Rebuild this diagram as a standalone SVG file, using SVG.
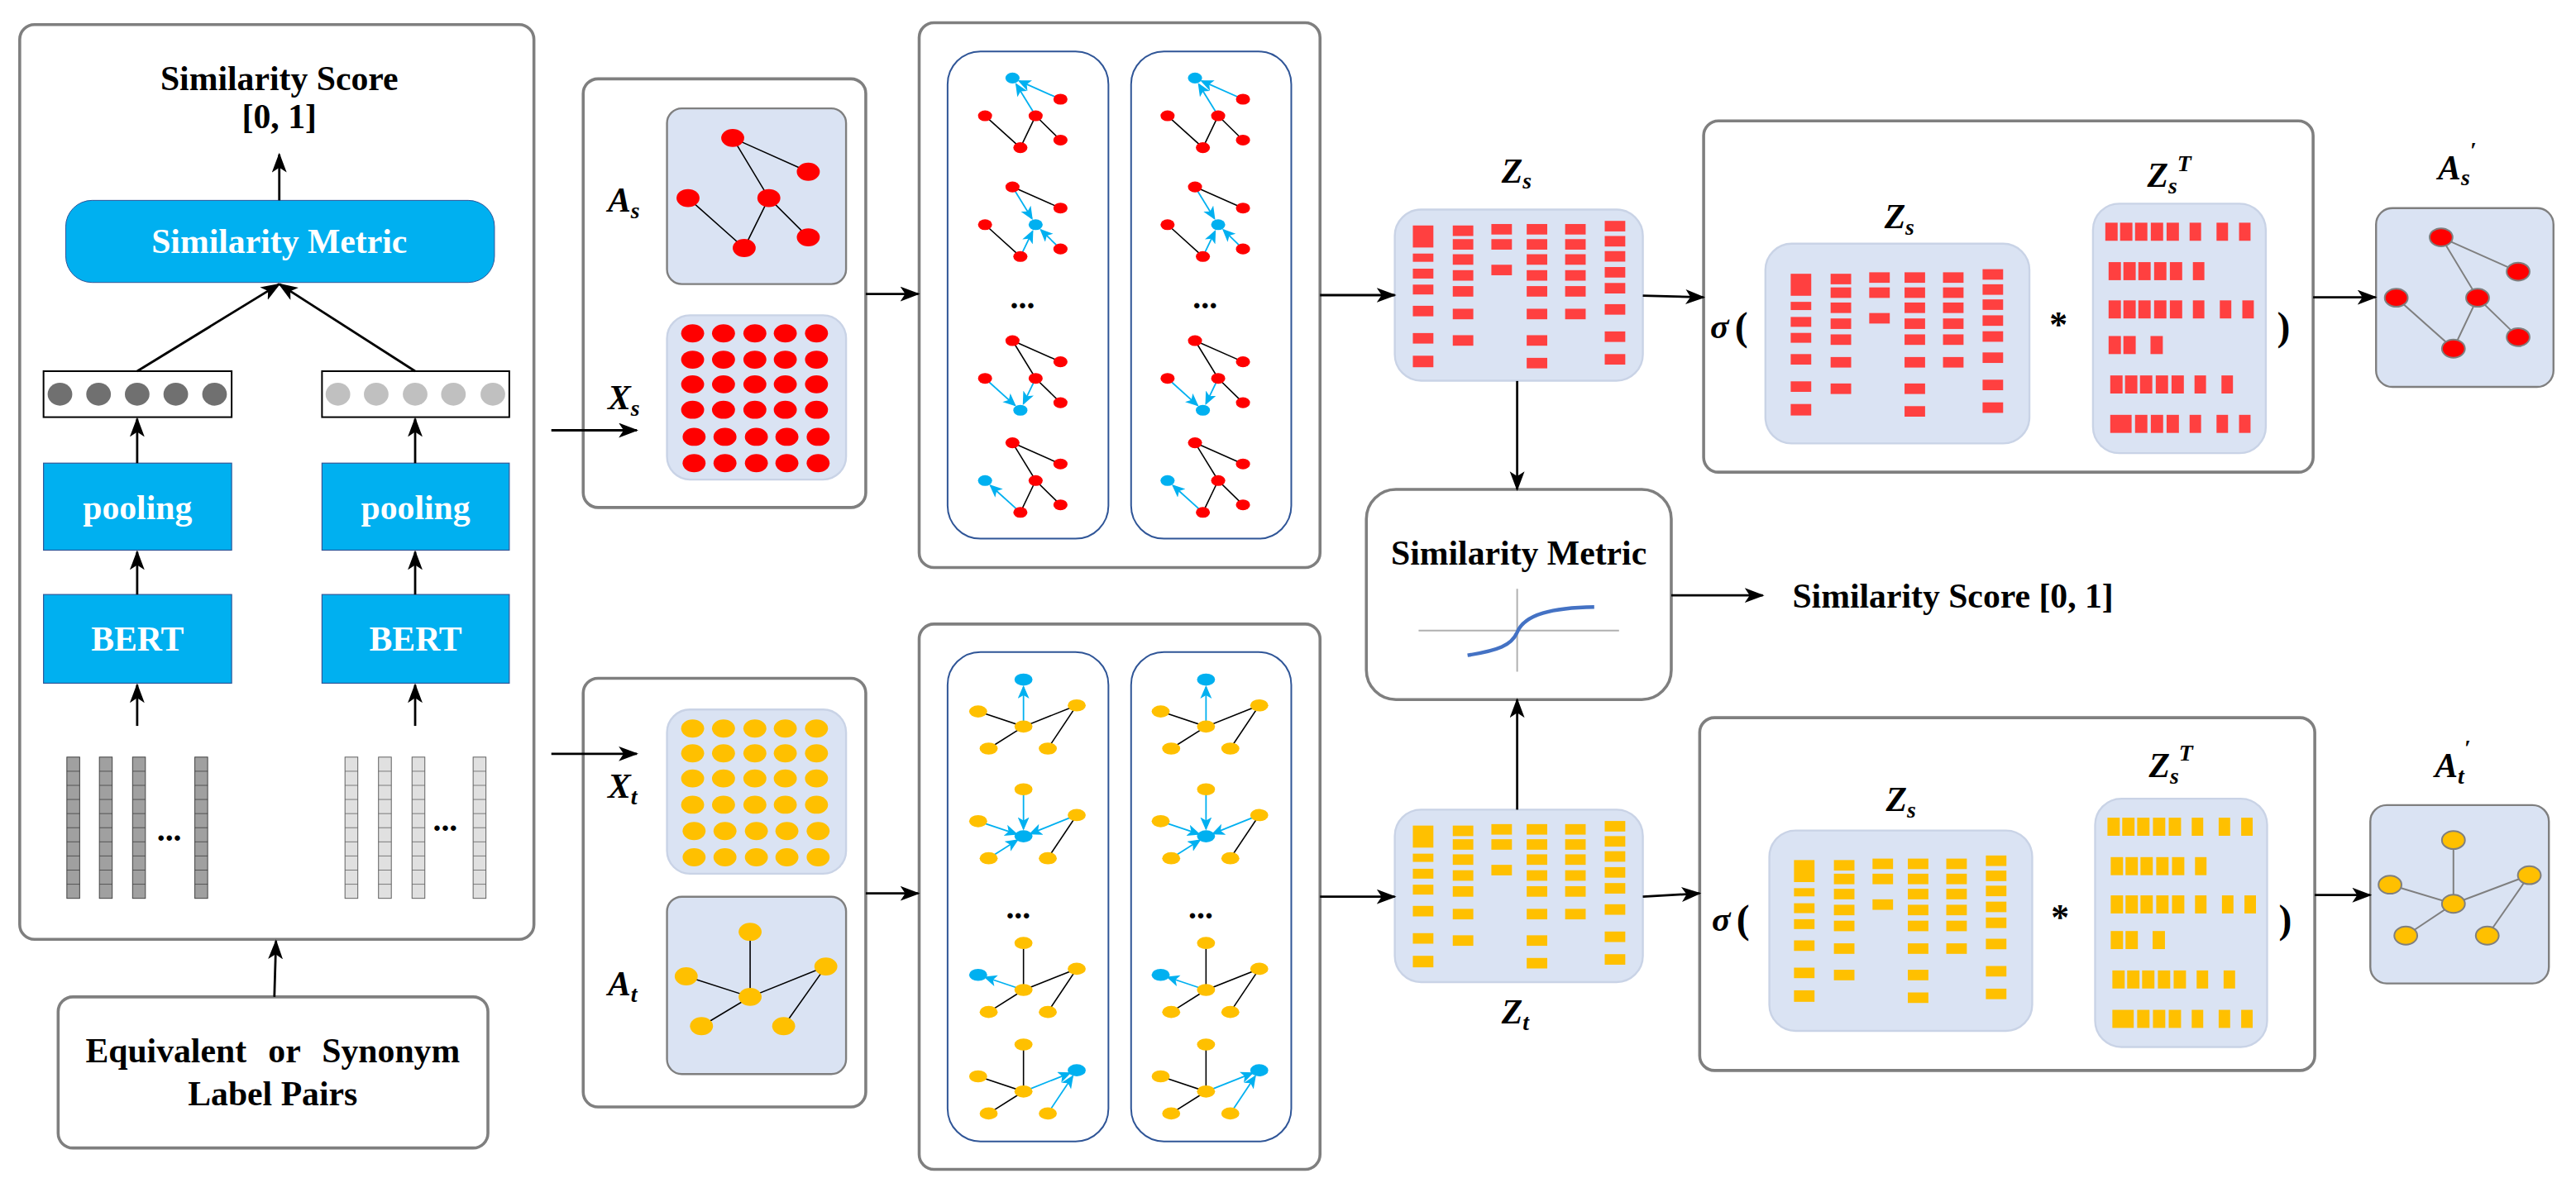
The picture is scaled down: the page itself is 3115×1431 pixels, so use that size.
<svg xmlns="http://www.w3.org/2000/svg" xmlns:xlink="http://www.w3.org/1999/xlink" width="3115" height="1431" viewBox="0 0 3115 1431">
<style>
.box{fill:#fff;stroke:#7f7f7f;stroke-width:1.8}
.lav{fill:#dae3f3;stroke:#7f7f7f;stroke-width:1.2}
.lav2{fill:#dae3f3;stroke:#c9d3e6;stroke-width:1.2}
.col{fill:#fff;stroke:#2f5597;stroke-width:1}
.blue{fill:#00b0f0;stroke:#2f5597;stroke-width:0.6}
.t{font-family:"Liberation Serif","Times New Roman",serif;font-weight:bold;fill:#000}
.w{fill:#fff}
.m{font-family:"Liberation Serif","Times New Roman",serif;font-weight:bold;font-style:italic;font-size:21px}
.con line,.con path{stroke:#000;stroke-width:1.4;fill:none;marker-end:url(#ah)}
.bk{stroke:#000;stroke-width:0.8;fill:none}
.bl{stroke:#00b0f0;stroke-width:0.9;fill:none;marker-end:url(#bh)}
.gr{stroke:#7f7f7f;stroke-width:1;fill:none}
.r{fill:#ff0000}.o{fill:#ffc000}.c{fill:#00b0f0}
</style>
<defs>
<marker id="ah" markerUnits="userSpaceOnUse" markerWidth="13" markerHeight="10" refX="11" refY="4.5" orient="auto"><path d="M0,0 L12,4.5 L0,9 L3,4.5 Z" fill="#000"/></marker>
<marker id="bh" markerUnits="userSpaceOnUse" markerWidth="9" markerHeight="8" refX="7" refY="3.5" orient="auto"><path d="M0,0 L8,3.5 L0,7 L2,3.5 Z" fill="#00b0f0"/></marker>
<g id="tokD"><rect x="0" y="0" width="7.8" height="86" fill="#a0a0a0" stroke="#404040" stroke-width="0.5"/><path d="M0,8.6H7.8M0,17.2H7.8M0,25.8H7.8M0,34.4H7.8M0,43H7.8M0,51.6H7.8M0,60.2H7.8M0,68.8H7.8M0,77.4H7.8" stroke="#404040" stroke-width="0.4"/></g>
<g id="tokL"><rect x="0" y="0" width="7.8" height="86" fill="#e0e0e0" stroke="#606060" stroke-width="0.5"/><path d="M0,8.6H7.8M0,17.2H7.8M0,25.8H7.8M0,34.4H7.8M0,43H7.8M0,51.6H7.8M0,60.2H7.8M0,68.8H7.8M0,77.4H7.8" stroke="#606060" stroke-width="0.4"/></g>
<g id="bars">
<rect x="11" y="9.7" width="12.5" height="13.4"/><rect x="11" y="26.8" width="12.5" height="5"/><rect x="11" y="36" width="12.5" height="6"/><rect x="11" y="45.7" width="12.5" height="6"/><rect x="11" y="58.6" width="12.5" height="6.4"/><rect x="11" y="75.2" width="12.5" height="6.4"/><rect x="11" y="89" width="12.5" height="7"/>
<rect x="35.3" y="9.7" width="12.5" height="6.4"/><rect x="35.3" y="18" width="12.5" height="6.4"/><rect x="35.3" y="27.2" width="12.5" height="6.4"/><rect x="35.3" y="36.9" width="12.5" height="6.4"/><rect x="35.3" y="46.6" width="12.5" height="6.4"/><rect x="35.3" y="60.4" width="12.5" height="6.4"/><rect x="35.3" y="76.5" width="12.5" height="6.4"/>
<rect x="58.8" y="8.8" width="12.5" height="6.4"/><rect x="58.8" y="18" width="12.5" height="6.4"/><rect x="58.8" y="33.6" width="12.5" height="6.4"/>
<rect x="80.3" y="8.8" width="12.5" height="6.4"/><rect x="80.3" y="18" width="12.5" height="6.4"/><rect x="80.3" y="27.2" width="12.5" height="6.4"/><rect x="80.3" y="36.9" width="12.5" height="6.4"/><rect x="80.3" y="46.6" width="12.5" height="6.4"/><rect x="80.3" y="60.4" width="12.5" height="6.4"/><rect x="80.3" y="76.5" width="12.5" height="6.4"/><rect x="80.3" y="90.3" width="12.5" height="6.4"/>
<rect x="103.7" y="8.8" width="12.5" height="6.4"/><rect x="103.7" y="18" width="12.5" height="6.4"/><rect x="103.7" y="27.2" width="12.5" height="6.4"/><rect x="103.7" y="36.9" width="12.5" height="6.4"/><rect x="103.7" y="46.6" width="12.5" height="6.4"/><rect x="103.7" y="60.4" width="12.5" height="6.4"/>
<rect x="127.8" y="6.9" width="12.5" height="6.4"/><rect x="127.8" y="16.1" width="12.5" height="6.4"/><rect x="127.8" y="25.3" width="12.5" height="6.4"/><rect x="127.8" y="35" width="12.5" height="6.4"/><rect x="127.8" y="44.7" width="12.5" height="6.4"/><rect x="127.8" y="57.6" width="12.5" height="6.4"/><rect x="127.8" y="74.2" width="12.5" height="6.4"/><rect x="127.8" y="88" width="12.5" height="6.4"/>
</g>
<g id="barsT">
<g transform="translate(0,11.6)"><rect x="7.5" width="7.5" height="11"/><rect x="16.5" width="7.5" height="11"/><rect x="25.6" width="7.5" height="11"/><rect x="35.2" width="7.5" height="11"/><rect x="44.8" width="7.5" height="11"/><rect x="58.8" width="7" height="11"/><rect x="75.2" width="7" height="11"/><rect x="88.9" width="7" height="11"/></g>
<g transform="translate(2,35.6)"><rect x="7.5" width="7.5" height="11"/><rect x="16.5" width="7.5" height="11"/><rect x="25.6" width="7.5" height="11"/><rect x="35.2" width="7.5" height="11"/><rect x="44.8" width="7.5" height="11"/><rect x="58.8" width="7" height="11"/></g>
<g transform="translate(2,58.9)"><rect x="7.5" width="7.5" height="11"/><rect x="16.5" width="7.5" height="11"/><rect x="25.6" width="7.5" height="11"/><rect x="35.2" width="7.5" height="11"/><rect x="44.8" width="7.5" height="11"/><rect x="58.8" width="7" height="11"/><rect x="75.2" width="7" height="11"/><rect x="88.9" width="7" height="11"/></g>
<g transform="translate(2,80.6)"><rect x="7.5" width="7.5" height="11"/><rect x="16.5" width="7.5" height="11"/><rect x="33" width="7.5" height="11"/></g>
<g transform="translate(3,104.6)"><rect x="7.5" width="7.5" height="11"/><rect x="16.5" width="7.5" height="11"/><rect x="25.6" width="7.5" height="11"/><rect x="35.2" width="7.5" height="11"/><rect x="44.8" width="7.5" height="11"/><rect x="58.8" width="7" height="11"/><rect x="75.2" width="7" height="11"/></g>
<g transform="translate(3,128.6)"><rect x="7.5" width="13" height="11"/><rect x="22.6" width="7.5" height="11"/><rect x="32.2" width="7.5" height="11"/><rect x="41.8" width="7.5" height="11"/><rect x="55.8" width="7" height="11"/><rect x="72.2" width="7" height="11"/><rect x="85.9" width="7" height="11"/></g>
</g>
<g id="sg1"><path class="bk" d="M-16.7,23L4.8,42.4L14.1,23M14.1,23L29.2,37.8"/><line class="bl" x1="14.1" y1="23" x2="2.3" y2="3.8"/><line class="bl" x1="29.2" y1="12.9" x2="4.1" y2="1.8"/>
<ellipse class="c" cx="0" cy="0" rx="4.3" ry="3.3"/><ellipse class="r" cx="29.2" cy="12.9" rx="4.3" ry="3.3"/><ellipse class="r" cx="-16.7" cy="23" rx="4.3" ry="3.3"/><ellipse class="r" cx="14.1" cy="23" rx="4.3" ry="3.3"/><ellipse class="r" cx="4.8" cy="42.4" rx="4.3" ry="3.3"/><ellipse class="r" cx="29.2" cy="37.8" rx="4.3" ry="3.3"/></g>
<g id="sg2"><path class="bk" d="M0,0L29.2,12.9M-16.7,23L4.8,42.4"/><line class="bl" x1="0" y1="0" x2="11.8" y2="19.2"/><line class="bl" x1="4.8" y1="42.4" x2="12.2" y2="27.1"/><line class="bl" x1="29.2" y1="37.8" x2="17.3" y2="26.2"/>
<ellipse class="r" cx="0" cy="0" rx="4.3" ry="3.3"/><ellipse class="r" cx="29.2" cy="12.9" rx="4.3" ry="3.3"/><ellipse class="r" cx="-16.7" cy="23" rx="4.3" ry="3.3"/><ellipse class="c" cx="14.1" cy="23" rx="4.3" ry="3.3"/><ellipse class="r" cx="4.8" cy="42.4" rx="4.3" ry="3.3"/><ellipse class="r" cx="29.2" cy="37.8" rx="4.3" ry="3.3"/></g>
<g id="sg3"><path class="bk" d="M0,0L29.2,12.9M0,0L14.1,23L29.2,37.8"/><line class="bl" x1="-16.7" y1="23" x2="1.5" y2="39.4"/><line class="bl" x1="14.1" y1="23" x2="6.7" y2="38.3"/>
<ellipse class="r" cx="0" cy="0" rx="4.3" ry="3.3"/><ellipse class="r" cx="29.2" cy="12.9" rx="4.3" ry="3.3"/><ellipse class="r" cx="-16.7" cy="23" rx="4.3" ry="3.3"/><ellipse class="r" cx="14.1" cy="23" rx="4.3" ry="3.3"/><ellipse class="c" cx="4.8" cy="42.4" rx="4.3" ry="3.3"/><ellipse class="r" cx="29.2" cy="37.8" rx="4.3" ry="3.3"/></g>
<g id="sg4"><path class="bk" d="M0,0L29.2,12.9M0,0L14.1,23L29.2,37.8M14.1,23L4.8,42.4"/><line class="bl" x1="4.8" y1="42.4" x2="-13.4" y2="26"/>
<ellipse class="r" cx="0" cy="0" rx="4.3" ry="3.3"/><ellipse class="r" cx="29.2" cy="12.9" rx="4.3" ry="3.3"/><ellipse class="c" cx="-16.7" cy="23" rx="4.3" ry="3.3"/><ellipse class="r" cx="14.1" cy="23" rx="4.3" ry="3.3"/><ellipse class="r" cx="4.8" cy="42.4" rx="4.3" ry="3.3"/><ellipse class="r" cx="29.2" cy="37.8" rx="4.3" ry="3.3"/></g>
<g id="og1"><path class="bk" d="M-27.6,19.4L0,28.6L32.4,15.7L14.8,42M0,28.6L-21.2,42"/><line class="bl" x1="0" y1="28.6" x2="0" y2="4.5"/>
<ellipse class="c" cx="0" cy="0" rx="5.5" ry="3.7"/><ellipse class="o" cx="-27.6" cy="19.4" rx="5.5" ry="3.7"/><ellipse class="o" cx="32.4" cy="15.7" rx="5.5" ry="3.7"/><ellipse class="o" cx="0" cy="28.6" rx="5.5" ry="3.7"/><ellipse class="o" cx="-21.2" cy="42" rx="5.5" ry="3.7"/><ellipse class="o" cx="14.8" cy="42" rx="5.5" ry="3.7"/></g>
<g id="og2"><path class="bk" d="M32.4,15.7L14.8,42"/><line class="bl" x1="0" y1="0" x2="0" y2="24"/><line class="bl" x1="-27.6" y1="19.4" x2="-4.3" y2="27.2"/><line class="bl" x1="32.4" y1="15.7" x2="4.2" y2="27"/><line class="bl" x1="-21.2" y1="42" x2="-3.8" y2="31"/>
<ellipse class="o" cx="0" cy="0" rx="5.5" ry="3.7"/><ellipse class="o" cx="-27.6" cy="19.4" rx="5.5" ry="3.7"/><ellipse class="o" cx="32.4" cy="15.7" rx="5.5" ry="3.7"/><ellipse class="c" cx="0" cy="28.6" rx="5.5" ry="3.7"/><ellipse class="o" cx="-21.2" cy="42" rx="5.5" ry="3.7"/><ellipse class="o" cx="14.8" cy="42" rx="5.5" ry="3.7"/></g>
<g id="og3"><path class="bk" d="M0,0L0,28.6L32.4,15.7L14.8,42M0,28.6L-21.2,42"/><line class="bl" x1="0" y1="28.6" x2="-23.3" y2="20.8"/>
<ellipse class="o" cx="0" cy="0" rx="5.5" ry="3.7"/><ellipse class="c" cx="-27.6" cy="19.4" rx="5.5" ry="3.7"/><ellipse class="o" cx="32.4" cy="15.7" rx="5.5" ry="3.7"/><ellipse class="o" cx="0" cy="28.6" rx="5.5" ry="3.7"/><ellipse class="o" cx="-21.2" cy="42" rx="5.5" ry="3.7"/><ellipse class="o" cx="14.8" cy="42" rx="5.5" ry="3.7"/></g>
<g id="og4"><path class="bk" d="M0,0L0,28.6L-27.6,19.4M0,28.6L-21.2,42"/><line class="bl" x1="0" y1="28.6" x2="28.2" y2="17.4"/><line class="bl" x1="14.8" y1="42" x2="29.9" y2="19.4"/>
<ellipse class="o" cx="0" cy="0" rx="5.5" ry="3.7"/><ellipse class="o" cx="-27.6" cy="19.4" rx="5.5" ry="3.7"/><ellipse class="c" cx="32.4" cy="15.7" rx="5.5" ry="3.7"/><ellipse class="o" cx="0" cy="28.6" rx="5.5" ry="3.7"/><ellipse class="o" cx="-21.2" cy="42" rx="5.5" ry="3.7"/><ellipse class="o" cx="14.8" cy="42" rx="5.5" ry="3.7"/></g>
</defs>
<rect width="3115" height="1431" fill="#fff"/>
<g transform="scale(1.9866)">
<g id="siamese">
<rect class="box" x="12" y="15" width="313" height="557" rx="9"/>
<text class="t" x="170" y="55" font-size="21" text-anchor="middle">Similarity Score</text>
<text class="t" x="170" y="78" font-size="21" text-anchor="middle">[0, 1]</text>
<rect x="40" y="122" width="261" height="50" rx="16" fill="#00b0f0" stroke="#2f5597" stroke-width="0.5"/>
<text class="t w" x="170" y="154" font-size="21" text-anchor="middle">Similarity Metric</text>
<rect x="26.5" y="226" width="114.5" height="28" fill="#fff" stroke="#000" stroke-width="1"/>
<g fill="#707070"><ellipse cx="36.5" cy="240" rx="7.5" ry="7"/><ellipse cx="60" cy="240" rx="7.5" ry="7"/><ellipse cx="83.5" cy="240" rx="7.5" ry="7"/><ellipse cx="107" cy="240" rx="7.5" ry="7"/><ellipse cx="130.6" cy="240" rx="7.5" ry="7"/></g>
<rect x="196" y="226" width="114" height="28" fill="#fff" stroke="#000" stroke-width="1"/>
<g fill="#c0c0c0"><ellipse cx="205.7" cy="240" rx="7.5" ry="7"/><ellipse cx="229" cy="240" rx="7.5" ry="7"/><ellipse cx="252.7" cy="240" rx="7.5" ry="7"/><ellipse cx="276" cy="240" rx="7.5" ry="7"/><ellipse cx="300" cy="240" rx="7.5" ry="7"/></g>
<rect class="blue" x="26.5" y="282" width="114.5" height="53"/><text class="t w" x="83.7" y="316" font-size="21" text-anchor="middle">pooling</text>
<rect class="blue" x="196" y="282" width="114" height="53"/><text class="t w" x="253" y="316" font-size="21" text-anchor="middle">pooling</text>
<rect class="blue" x="26.5" y="362" width="114.5" height="54"/><text class="t w" x="83.7" y="396" font-size="21" text-anchor="middle">BERT</text>
<rect class="blue" x="196" y="362" width="114" height="54"/><text class="t w" x="253" y="396" font-size="21" text-anchor="middle">BERT</text>
<use xlink:href="#tokD" x="40.7" y="461"/><use xlink:href="#tokD" x="60.5" y="461"/><use xlink:href="#tokD" x="80.7" y="461"/><use xlink:href="#tokD" x="118.6" y="461"/>
<text class="t" x="103" y="512" font-size="20" text-anchor="middle">...</text>
<use xlink:href="#tokL" x="210" y="461"/><use xlink:href="#tokL" x="230.4" y="461"/><use xlink:href="#tokL" x="250.8" y="461"/><use xlink:href="#tokL" x="288" y="461"/>
<text class="t" x="271" y="506" font-size="20" text-anchor="middle">...</text>
</g>
<g id="pairs">
<rect class="box" x="35.4" y="607" width="261.6" height="92" rx="9"/>
<text class="t" x="166" y="647" font-size="21" text-anchor="middle" word-spacing="8">Equivalent or Synonym</text>
<text class="t" x="166" y="673" font-size="21" text-anchor="middle">Label Pairs</text>
</g>
<g id="source-input">
<rect class="box" x="355" y="48" width="172" height="261" rx="9"/>
<rect class="lav" x="406" y="66" width="109" height="107" rx="9"/>
<path class="bk" d="M446,84L492,104.6M446,84L468,120.6L492,144.5M418.8,120.6L453,151L468,120.6"/>
<g class="r"><ellipse cx="446" cy="84" rx="7" ry="5.5"/><ellipse cx="492" cy="104.6" rx="7" ry="5.5"/><ellipse cx="418.8" cy="120.6" rx="7" ry="5.5"/><ellipse cx="468" cy="120.6" rx="7" ry="5.5"/><ellipse cx="453" cy="151" rx="7" ry="5.5"/><ellipse cx="492" cy="144.5" rx="7" ry="5.5"/></g>
<rect class="lav2" x="406" y="192" width="109" height="100" rx="14"/>
<g class="r">
<ellipse cx="421.6" cy="203" rx="7" ry="5.5"/><ellipse cx="440.4" cy="203" rx="7" ry="5.5"/><ellipse cx="459.5" cy="203" rx="7" ry="5.5"/><ellipse cx="478" cy="203" rx="7" ry="5.5"/><ellipse cx="497" cy="203" rx="7" ry="5.5"/>
<ellipse cx="421.6" cy="219" rx="7" ry="5.5"/><ellipse cx="440.4" cy="219" rx="7" ry="5.5"/><ellipse cx="459.5" cy="219" rx="7" ry="5.5"/><ellipse cx="478" cy="219" rx="7" ry="5.5"/><ellipse cx="497" cy="219" rx="7" ry="5.5"/>
<ellipse cx="421.6" cy="234" rx="7" ry="5.5"/><ellipse cx="440.4" cy="234" rx="7" ry="5.5"/><ellipse cx="459.5" cy="234" rx="7" ry="5.5"/><ellipse cx="478" cy="234" rx="7" ry="5.5"/><ellipse cx="497" cy="234" rx="7" ry="5.5"/>
<ellipse cx="421.6" cy="249.5" rx="7" ry="5.5"/><ellipse cx="440.4" cy="249.5" rx="7" ry="5.5"/><ellipse cx="459.5" cy="249.5" rx="7" ry="5.5"/><ellipse cx="478" cy="249.5" rx="7" ry="5.5"/><ellipse cx="497" cy="249.5" rx="7" ry="5.5"/>
<ellipse cx="422.5" cy="266" rx="7" ry="5.5"/><ellipse cx="441.3" cy="266" rx="7" ry="5.5"/><ellipse cx="460.4" cy="266" rx="7" ry="5.5"/><ellipse cx="479" cy="266" rx="7" ry="5.5"/><ellipse cx="498" cy="266" rx="7" ry="5.5"/>
<ellipse cx="422.5" cy="282" rx="7" ry="5.5"/><ellipse cx="441.3" cy="282" rx="7" ry="5.5"/><ellipse cx="460.4" cy="282" rx="7" ry="5.5"/><ellipse cx="479" cy="282" rx="7" ry="5.5"/><ellipse cx="498" cy="282" rx="7" ry="5.5"/>
</g>
<text class="m" x="370" y="129">A<tspan font-size="14" dy="4">s</tspan></text>
<text class="m" x="370" y="249">X<tspan font-size="14" dy="4">s</tspan></text>
</g>
<g id="target-input">
<rect class="box" x="355" y="413" width="172" height="261" rx="9"/>
<rect class="lav2" x="406" y="432" width="109" height="100" rx="14"/>
<g class="o">
<ellipse cx="421.6" cy="443.6" rx="7" ry="5.5"/><ellipse cx="440.4" cy="443.6" rx="7" ry="5.5"/><ellipse cx="459.5" cy="443.6" rx="7" ry="5.5"/><ellipse cx="478" cy="443.6" rx="7" ry="5.5"/><ellipse cx="497" cy="443.6" rx="7" ry="5.5"/>
<ellipse cx="421.6" cy="458.7" rx="7" ry="5.5"/><ellipse cx="440.4" cy="458.7" rx="7" ry="5.5"/><ellipse cx="459.5" cy="458.7" rx="7" ry="5.5"/><ellipse cx="478" cy="458.7" rx="7" ry="5.5"/><ellipse cx="497" cy="458.7" rx="7" ry="5.5"/>
<ellipse cx="421.6" cy="474" rx="7" ry="5.5"/><ellipse cx="440.4" cy="474" rx="7" ry="5.5"/><ellipse cx="459.5" cy="474" rx="7" ry="5.5"/><ellipse cx="478" cy="474" rx="7" ry="5.5"/><ellipse cx="497" cy="474" rx="7" ry="5.5"/>
<ellipse cx="421.6" cy="490" rx="7" ry="5.5"/><ellipse cx="440.4" cy="490" rx="7" ry="5.5"/><ellipse cx="459.5" cy="490" rx="7" ry="5.5"/><ellipse cx="478" cy="490" rx="7" ry="5.5"/><ellipse cx="497" cy="490" rx="7" ry="5.5"/>
<ellipse cx="422.5" cy="506" rx="7" ry="5.5"/><ellipse cx="441.3" cy="506" rx="7" ry="5.5"/><ellipse cx="460.4" cy="506" rx="7" ry="5.5"/><ellipse cx="479" cy="506" rx="7" ry="5.5"/><ellipse cx="498" cy="506" rx="7" ry="5.5"/>
<ellipse cx="422.5" cy="522" rx="7" ry="5.5"/><ellipse cx="441.3" cy="522" rx="7" ry="5.5"/><ellipse cx="460.4" cy="522" rx="7" ry="5.5"/><ellipse cx="479" cy="522" rx="7" ry="5.5"/><ellipse cx="498" cy="522" rx="7" ry="5.5"/>
</g>
<rect class="lav" x="406" y="546" width="109" height="108" rx="9"/>
<path class="bk" d="M456.6,567.4L456.6,607L502.7,588.5L477,624.8M417.7,594.5L456.6,607L427,624.8"/>
<g class="o"><ellipse cx="456.6" cy="567.4" rx="7" ry="5.5"/><ellipse cx="417.7" cy="594.5" rx="7" ry="5.5"/><ellipse cx="502.7" cy="588.5" rx="7" ry="5.5"/><ellipse cx="456.6" cy="607" rx="7" ry="5.5"/><ellipse cx="427" cy="624.8" rx="7" ry="5.5"/><ellipse cx="477" cy="624.8" rx="7" ry="5.5"/></g>
<text class="m" x="370" y="486">X<tspan font-size="14" dy="4">t</tspan></text>
<text class="m" x="370" y="606">A<tspan font-size="14" dy="4">t</tspan></text>
</g>
<g id="gnn-source">
<rect class="box" x="559.5" y="13.8" width="244" height="331.8" rx="9"/>
<rect class="col" x="576.8" y="31.3" width="97.9" height="296.7" rx="20"/>
<rect class="col" x="688.5" y="31.3" width="97.5" height="296.7" rx="20"/>
<use xlink:href="#sg1" x="616.3" y="47.5"/><use xlink:href="#sg2" x="616.3" y="113.8"/><use xlink:href="#sg3" x="616.3" y="207.4"/><use xlink:href="#sg4" x="616.3" y="269.6"/>
<use xlink:href="#sg1" x="727.4" y="47.5"/><use xlink:href="#sg2" x="727.4" y="113.8"/><use xlink:href="#sg3" x="727.4" y="207.4"/><use xlink:href="#sg4" x="727.4" y="269.6"/>
<text class="t" x="622.4" y="188" font-size="20" text-anchor="middle">...</text>
<text class="t" x="733.5" y="188" font-size="20" text-anchor="middle">...</text>
</g>
<g id="gnn-target">
<rect class="box" x="559.5" y="380" width="244" height="332" rx="9"/>
<rect class="col" x="576.8" y="397" width="97.9" height="298" rx="20"/>
<rect class="col" x="688.5" y="397" width="97.5" height="298" rx="20"/>
<use xlink:href="#og1" x="623" y="413.8"/><use xlink:href="#og2" x="623" y="480.6"/><use xlink:href="#og3" x="623" y="574.2"/><use xlink:href="#og4" x="623" y="636"/>
<use xlink:href="#og1" x="734.1" y="413.8"/><use xlink:href="#og2" x="734.1" y="480.6"/><use xlink:href="#og3" x="734.1" y="574.2"/><use xlink:href="#og4" x="734.1" y="636"/>
<text class="t" x="619.8" y="559" font-size="20" text-anchor="middle">...</text>
<text class="t" x="730.9" y="559" font-size="20" text-anchor="middle">...</text>
</g>
<g id="zs">
<rect class="lav2" x="849" y="127.6" width="151" height="104.2" rx="16"/>
<use xlink:href="#bars" x="849" y="127.6" fill="#ff4040"/>
<text class="m" x="914" y="111">Z<tspan font-size="14" dy="4">s</tspan></text>
</g>
<g id="zt">
<rect class="lav2" x="849" y="493" width="151" height="105" rx="16"/>
<use xlink:href="#bars" x="849" y="493" fill="#ffc000"/>
<text class="m" x="914" y="623">Z<tspan font-size="14" dy="4">t</tspan></text>
</g>
<g id="sim-metric">
<rect class="box" x="831.7" y="298" width="185.6" height="128" rx="18"/>
<text class="t" x="924.5" y="344" font-size="21" text-anchor="middle">Similarity Metric</text>
<path d="M863.5,383.9H985.5M923.5,358.5V409" stroke="#b0b0b0" stroke-width="1"/>
<path d="M893.3,399 C912,396 920,393 923.5,385 C928,374 945,370 970.4,369.6" stroke="#4472c4" stroke-width="2.2" fill="none"/>
</g>
<g id="score-out">
<text class="t" x="1091" y="370" font-size="21">Similarity Score [0, 1]</text>
</g>
<g id="decoder-source">
<rect class="box" x="1037" y="73.6" width="371" height="213.9" rx="9"/>
<rect class="lav2" x="1074.6" y="148.4" width="160.7" height="121.6" rx="16"/>
<use xlink:href="#bars" x="1079" y="157" fill="#ff4040"/>
<rect class="lav2" x="1274" y="124" width="105.2" height="151.9" rx="16"/>
<use xlink:href="#barsT" x="1274" y="124" fill="#ff4040"/>
<text class="m" x="1147" y="139">Z<tspan font-size="14" dy="4">s</tspan></text>
<text class="m" x="1307" y="114">Z<tspan font-size="14" dy="4">s</tspan><tspan font-size="14" dy="-14">T</tspan></text>
<text class="m" x="1041" y="206" font-size="24">σ</text><text class="t" x="1056" y="207" font-size="24">(</text>
<text class="t" x="1253" y="205" font-size="22" text-anchor="middle">*</text>
<text class="t" x="1386" y="207" font-size="24">)</text>
</g>
<g id="decoder-target">
<rect class="box" x="1034.6" y="437" width="374.4" height="214.8" rx="9"/>
<rect class="lav2" x="1077" y="505.7" width="160" height="122" rx="16"/>
<use xlink:href="#bars" x="1081" y="514" fill="#ffc000"/>
<rect class="lav2" x="1275.3" y="486.3" width="104.7" height="151.2" rx="16"/>
<use xlink:href="#barsT" x="1275.3" y="486.3" fill="#ffc000"/>
<text class="m" x="1148" y="494">Z<tspan font-size="14" dy="4">s</tspan></text>
<text class="m" x="1308" y="473">Z<tspan font-size="14" dy="4">s</tspan><tspan font-size="14" dy="-14">T</tspan></text>
<text class="m" x="1042" y="567" font-size="24">σ</text><text class="t" x="1057" y="568" font-size="24">(</text>
<text class="t" x="1254" y="566" font-size="22" text-anchor="middle">*</text>
<text class="t" x="1387" y="568" font-size="24">)</text>
</g>
<g id="as-prime">
<rect class="lav" x="1446.3" y="126.7" width="108" height="108.9" rx="10"/>
<path class="gr" d="M1485.9,144.5L1532.8,165.4M1485.9,144.5L1508.1,181.3L1532.8,205.3M1458.6,181.3L1493.4,212.3L1508.1,181.3"/>
<g fill="#ff0000" stroke="#7f7f7f" stroke-width="1"><ellipse cx="1485.9" cy="144.5" rx="7" ry="5.5"/><ellipse cx="1532.8" cy="165.4" rx="7" ry="5.5"/><ellipse cx="1458.6" cy="181.3" rx="7" ry="5.5"/><ellipse cx="1508.1" cy="181.3" rx="7" ry="5.5"/><ellipse cx="1493.4" cy="212.3" rx="7" ry="5.5"/><ellipse cx="1532.8" cy="205.3" rx="7" ry="5.5"/></g>
<text class="m" x="1484" y="109" font-size="23">A<tspan font-size="14" dy="4">s</tspan><tspan font-size="14" dy="-17">′</tspan></text>
</g>
<g id="at-prime">
<rect class="lav" x="1442.8" y="490.2" width="108.7" height="108.6" rx="10"/>
<path class="gr" d="M1493.4,511.5L1493.4,550.3L1539.6,532.9L1514,569.7M1454.8,538.7L1493.4,550.3L1464.4,569.7"/>
<g fill="#ffc000" stroke="#7f7f7f" stroke-width="1"><ellipse cx="1493.4" cy="511.5" rx="7" ry="5.5"/><ellipse cx="1454.8" cy="538.7" rx="7" ry="5.5"/><ellipse cx="1539.6" cy="532.9" rx="7" ry="5.5"/><ellipse cx="1493.4" cy="550.3" rx="7" ry="5.5"/><ellipse cx="1464.4" cy="569.7" rx="7" ry="5.5"/><ellipse cx="1514" cy="569.7" rx="7" ry="5.5"/></g>
<text class="m" x="1482" y="473" font-size="23">A<tspan font-size="14" dy="4">t</tspan><tspan font-size="14" dy="-17">′</tspan></text>
</g>
<g id="connectors" class="con">
<line x1="170" y1="122" x2="170" y2="94"/>
<line x1="83.5" y1="226" x2="170" y2="173"/>
<line x1="252.7" y1="226" x2="170" y2="173"/>
<line x1="83.5" y1="282" x2="83.5" y2="255"/><line x1="252.7" y1="282" x2="252.7" y2="255"/>
<line x1="83.5" y1="362" x2="83.5" y2="336"/><line x1="252.7" y1="362" x2="252.7" y2="336"/>
<line x1="83.5" y1="442" x2="83.5" y2="417"/><line x1="252.7" y1="442" x2="252.7" y2="417"/>
<line x1="167" y1="607" x2="168" y2="573"/>
<line x1="335.6" y1="262" x2="387.6" y2="262"/><line x1="335.6" y1="459" x2="387.6" y2="459"/>
<line x1="527" y1="179" x2="559" y2="179"/><line x1="527" y1="544" x2="559" y2="544"/>
<line x1="803.5" y1="179.7" x2="849" y2="179.7"/><line x1="803.5" y1="546" x2="849" y2="546"/>
<line x1="923.5" y1="232" x2="923.5" y2="298"/><line x1="923.5" y1="493" x2="923.5" y2="426"/>
<line x1="1000" y1="180" x2="1037" y2="181"/><line x1="1000" y1="546" x2="1034.6" y2="544"/>
<line x1="1408" y1="181" x2="1446" y2="181"/><line x1="1409" y1="545" x2="1442.8" y2="545"/>
<line x1="1017.3" y1="362.5" x2="1073" y2="362.5"/>
</g>
</g>
</svg>
